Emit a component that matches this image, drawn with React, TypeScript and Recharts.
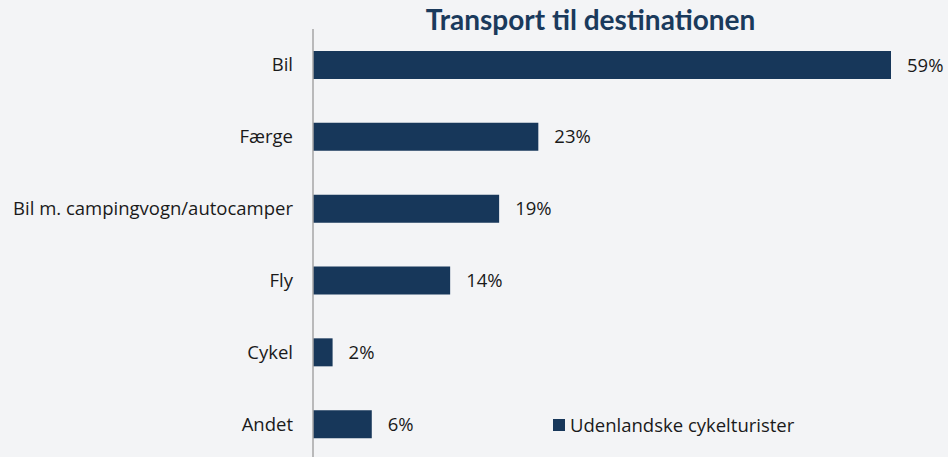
import React from 'react';
import { BarChart, Bar, XAxis, YAxis, LabelList } from 'recharts';

// Transport til destinationen - udenlandske cykelturister
const categories = ['Bil', 'Færge', 'Bil m. campingvogn/autocamper', 'Fly', 'Cykel', 'Andet'];
const shares = [59, 23, 19, 14, 2, 6];
const seriesName = 'Udenlandske cykelturister';

const data = categories.map((name, i) => ({ name, value: shares[i] }));

const navy = '#17375a';
const font = '"Open Sans", Lato, sans-serif';
const labelSize = 18.5;

const App = () => {
  return (
    <div style={{ position: 'relative', width: 948, height: 457, overflow: 'hidden', background: '#f3f4f6', fontFamily: font }}>
      <style>{`body{margin:0;overflow:hidden;}`}</style>
      <div
        style={{
          position: 'absolute',
          top: 2,
          left: 313,
          width: 555,
          textAlign: 'center',
          fontSize: 28,
          fontWeight: 700,
          fontFamily: 'Lato, sans-serif',
          color: '#1a3a5c',
          zIndex: 1,
        }}
      >
        Transport til destinationen
      </div>
      <BarChart
        width={948}
        height={460}
        data={data}
        layout="vertical"
        margin={{ top: 29, right: 57, left: 0, bottom: 0 }}
        barSize={28}
      >
        <XAxis type="number" domain={[0, 59]} hide />
        <YAxis
          type="category"
          dataKey="name"
          width={313}
          axisLine={{ stroke: '#a6a6a6', strokeWidth: 1.5 }}
          tickLine={false}
          tickMargin={14}
          tick={{ fill: '#1a1a1a', fontSize: labelSize, fontFamily: font }}
        />
        <Bar dataKey="value" name={seriesName} fill={navy} isAnimationActive={false}>
          <LabelList
            dataKey="value"
            position="right"
            offset={16}
            formatter={(v: number) => `${v}%`}
            style={{ fill: '#1a1a1a', fontSize: labelSize, fontFamily: font }}
          />
        </Bar>
      </BarChart>
      <div
        style={{
          position: 'absolute',
          left: 553,
          top: 412,
          display: 'flex',
          alignItems: 'center',
          fontSize: labelSize,
          color: '#1a1a1a',
        }}
      >
        <span style={{ display: 'inline-block', width: 12, height: 12, background: navy, marginRight: 5 }} />
        {seriesName}
      </div>
    </div>
  );
};

export default App;
